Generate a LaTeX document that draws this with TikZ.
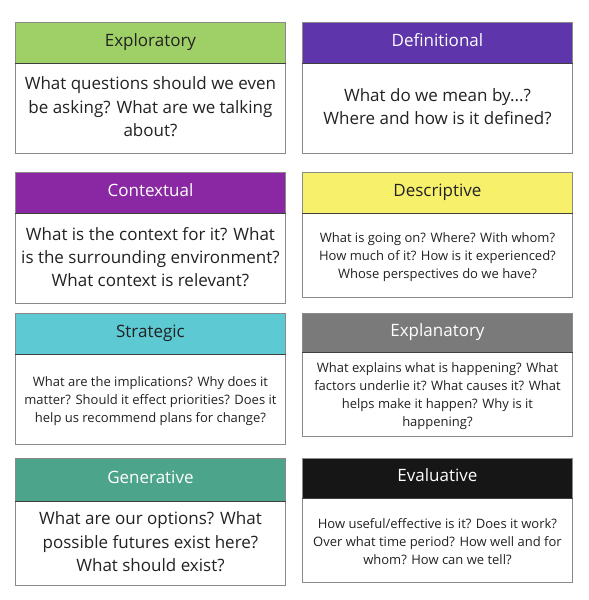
\documentclass[tikz,border=0pt]{standalone}
\usepackage{fontspec}
\setmainfont{Open Sans}
\definecolor{cgreen}{HTML}{9FD067}
\definecolor{cdef}{HTML}{5E35AA}
\definecolor{cctx}{HTML}{8A28A3}
\definecolor{cdesc}{HTML}{F7F06B}
\definecolor{cstrat}{HTML}{5DC9D2}
\definecolor{cexpl}{HTML}{7A7A7A}
\definecolor{cgen}{HTML}{4CA58A}
\definecolor{ceval}{HTML}{161616}
\definecolor{cborder}{HTML}{8A8A8A}
\definecolor{ctext}{HTML}{222222}
\tikzset{
  header/.style={draw=cborder, line width=0.9pt, anchor=north west, minimum width=270pt, inner sep=0pt, text height=0.85em, text depth=0.23em, font=\fontsize{17}{20}\selectfont},
  bodybox/.style={draw=cborder, line width=0.9pt, anchor=north west, minimum width=270pt, inner sep=0pt, align=center, text=ctext},
  bigtext/.style={font=\fontsize{17}{23.3}\selectfont, yshift=1.5pt},
  smalltext/.style={font=\fontsize{13}{18}\selectfont, yshift=-1.5pt},
  sep/.style={draw=black!75, line width=1pt}
}
% #1 name, #2 x, #3 top, #4 header bottom, #5 bottom, #6 fill, #7 title colour, #8 title, #9 body style
\newcommand{\mycard}[9]{%
  \node[header, fill=#6, text=#7, minimum height={(#4-#3)*1pt}] (#1h) at (#2,#3) {#8};
  \node[bodybox, minimum height={(#5-#4)*1pt}] (#1b) at (#2,#4) {};
  \node[align=center, text=ctext, inner sep=0pt, #9] (#1t) at (#1b.center) {\mycardbody};
  \draw[sep] (#1b.north west) -- (#1b.north east);
}
\begin{document}
\begin{tikzpicture}[x=1pt,y=-1pt]
\useasboundingbox[fill=white] (0,0) rectangle (589,600);
\def\mycardbody{What questions should we even\\be asking? What are we talking\\about?}
\mycard{expl}{15}{22}{63}{153}{cgreen}{ctext}{Exploratory}{bigtext}
\def\mycardbody{What do we mean by...?\\Where and how is it defined?}
\mycard{defi}{302}{22}{63}{153}{cdef}{white}{Definitional}{bigtext}
\def\mycardbody{What is the context for it? What\\is the surrounding environment?\\What context is relevant?}
\mycard{ctx}{15}{172}{213}{303}{cctx}{white}{Contextual}{bigtext}
\def\mycardbody{What is going on? Where? With whom?\\How much of it? How is it experienced?\\Whose perspectives do we have?}
\mycard{desc}{302}{172}{213}{297}{cdesc}{ctext}{Descriptive}{smalltext}
\def\mycardbody{What are the implications? Why does it\\matter? Should it effect priorities? Does it\\help us recommend plans for change?}
\mycard{strat}{15}{313}{354}{444}{cstrat}{ctext}{Strategic}{smalltext}
\def\mycardbody{What explains what is happening? What\\factors underlie it? What causes it? What\\helps make it happen? Why is it\\happening?}
\mycard{expn}{302}{313}{352}{436}{cexpl}{white}{Explanatory}{smalltext}
\def\mycardbody{What are our options? What\\possible futures exist here?\\What should exist?}
\mycard{gen}{15}{458}{501}{585}{cgen}{white}{Generative}{bigtext}
\def\mycardbody{How useful/effective is it? Does it work?\\Over what time period? How well and for\\whom? How can we tell?}
\mycard{eval}{302}{458}{498}{582}{ceval}{white}{Evaluative}{smalltext}
\end{tikzpicture}
\end{document}
